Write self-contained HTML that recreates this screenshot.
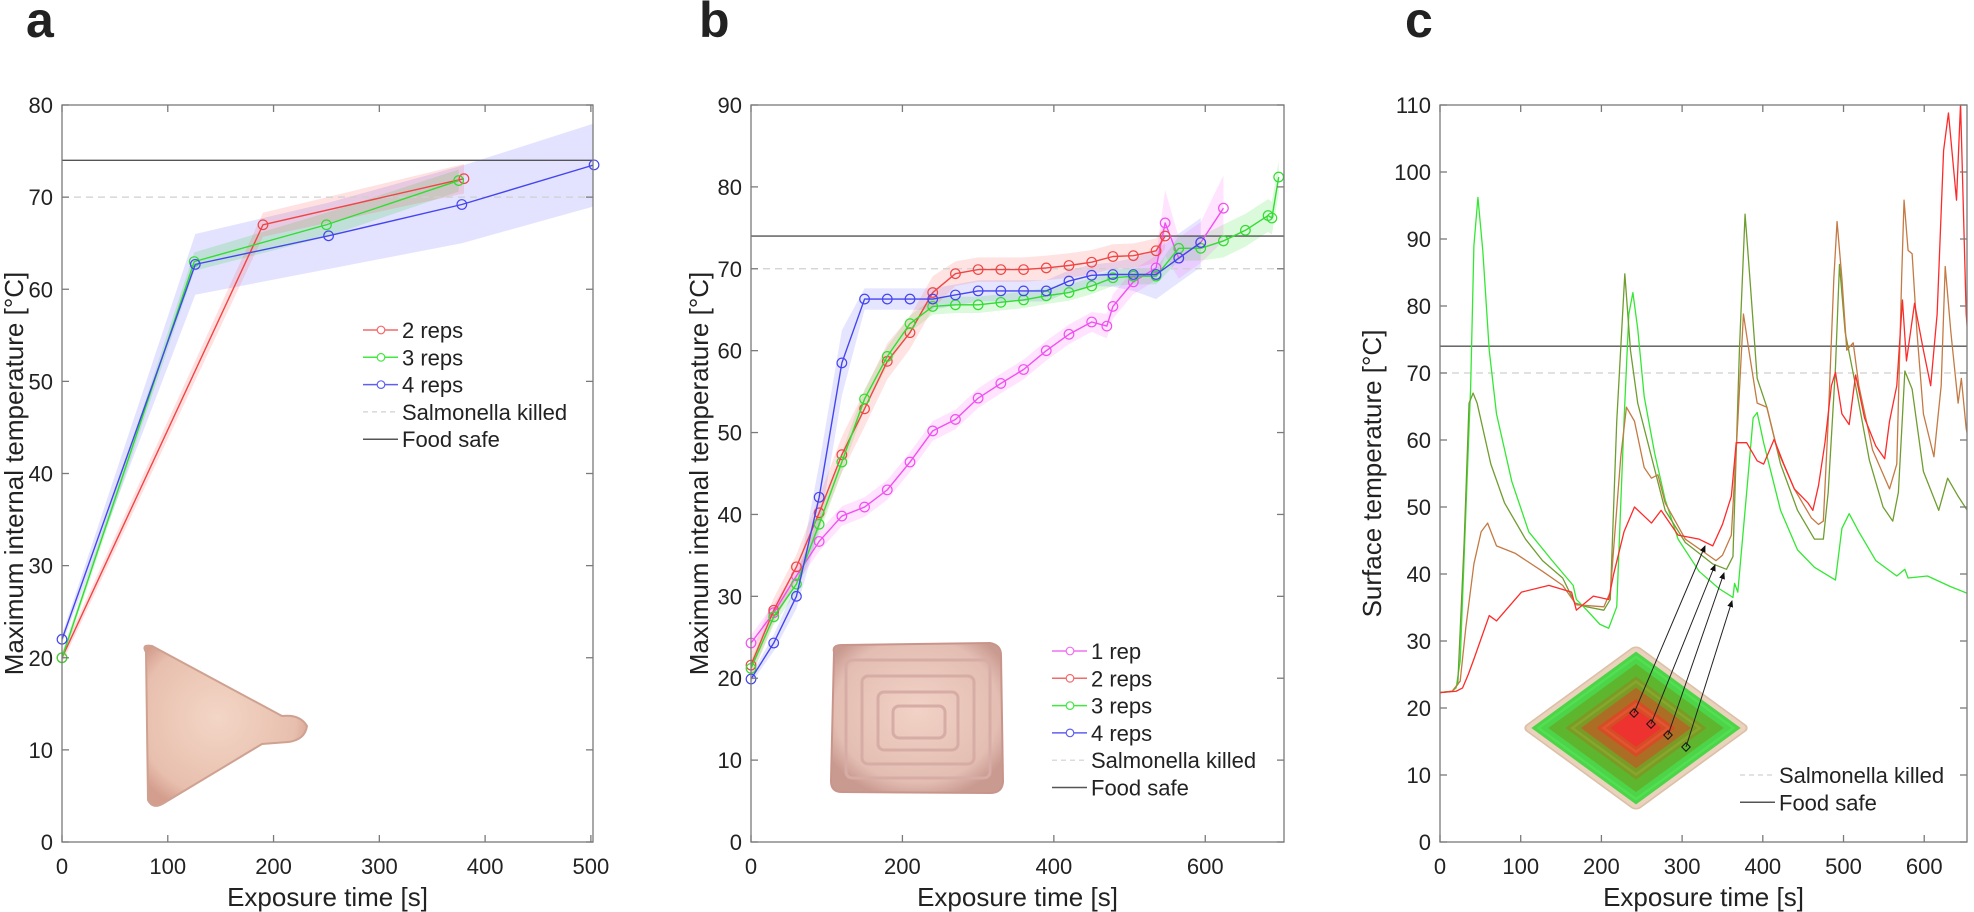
<!DOCTYPE html>
<html><head><meta charset="utf-8"><style>
html,body{margin:0;padding:0;background:#fff}
svg{display:block}
text{font-family:"Liberation Sans",Arial,sans-serif;fill:#222}
</style></head><body>
<svg id="fig" width="1974" height="912" viewBox="0 0 1974 912" xmlns="http://www.w3.org/2000/svg">
<defs>
<clipPath id="clipA"><rect x="62" y="105" width="531" height="737"/></clipPath>
<clipPath id="clipB"><rect x="751" y="105" width="533" height="737"/></clipPath>
<clipPath id="clipC"><rect x="1440" y="105" width="527" height="737"/></clipPath>
<radialGradient id="meatA" cx="0.45" cy="0.45" r="0.6"><stop offset="0" stop-color="#f3d6c6"/><stop offset="0.8" stop-color="#e8bfae"/><stop offset="1" stop-color="#d49e8e"/></radialGradient>
<radialGradient id="meatB" cx="0.5" cy="0.45" r="0.6"><stop offset="0" stop-color="#f2d2c6"/><stop offset="0.8" stop-color="#e3bdb2"/><stop offset="1" stop-color="#c99a90"/></radialGradient>
<marker id="arr" markerWidth="8" markerHeight="8" refX="6" refY="4" orient="auto"><path d="M0,1 L7,4 L0,7 Z" fill="#111"/></marker>
</defs>
<g id="root"></g>
</svg>
<script>
// ---------- Panel a data ----------
const aRedT=[0,190,380], aRedV=[20,67,72], aRedE=[0.6,1.3,1.6];
const aGreenT=[0,125,250,375], aGreenV=[20,63,67,71.8], aGreenE=[0.5,1,1.3,1.2];
const aBlueT=[0,126,252,378,503], aBlueV=[22,62.7,65.8,69.2,73.5], aBlueE=[0.5,3.3,3.6,4.2,4.5];
const aXTicks=[0,100,200,300,400,500], aYTicks=[0,10,20,30,40,50,60,70,80];
// ---------- Panel b data ----------
const bMagT=[0,30,60,90,120,150,180,210,240,270,300,330,360,390,420,450,470,478,505,535,547,565,594,624];
const bMagV=[24.3,28,32.5,36.7,39.8,40.9,43,46.4,50.2,51.6,54.2,56,57.7,60,62,63.5,63,65.4,68.4,70.1,75.6,71.3,73.2,77.4];
const bMagE=[1,1,1,1.2,1.2,1.2,1.2,1.2,1.2,1.2,1.2,1.2,1.2,1.2,1.2,1.2,1.5,1.5,1.5,1.5,4,2.5,2.5,4];
const bRedT=[0,30,60,90,120,150,180,210,240,270,300,330,360,390,420,450,478,505,535,547];
const bRedV=[21.6,28.3,33.6,40.2,47.3,52.9,58.7,62.2,67.1,69.4,69.9,69.9,69.9,70.1,70.4,70.8,71.5,71.6,72.2,74];
const bRedE=[1.5,1.5,1.5,2,2.2,2.2,2.2,2,2,1.5,1.5,1.5,1.5,1.5,1.5,1.5,1.5,1.5,1.5,1.5];
const bGreenT=[0,30,60,90,120,150,180,210,240,270,300,330,360,390,420,450,478,505,535,565,594,624,653,683,688,697];
const bGreenV=[21.2,27.5,31.5,38.8,46.4,54.1,59.3,63.3,65.4,65.6,65.6,65.9,66.2,66.7,67.1,67.9,68.9,69.1,69.1,72.5,72.5,73.4,74.7,76.5,76.2,81.2];
const bGreenE=[1,1,1,1.2,1.2,1.2,1.2,1,1,1,1,1,1,1,1,1,1,1,1,1.5,1.5,2,2,2,2,2];
const bBlueT=[0,30,60,90,120,150,180,210,240,270,300,330,360,390,420,450,478,505,535,565,594];
const bBlueV=[19.9,24.3,30,42.1,58.5,66.3,66.3,66.3,66.3,66.8,67.3,67.3,67.3,67.3,68.5,69.2,69.3,69.3,69.3,71.3,73.2];
const bBlueE=[0.5,1,1.5,4,4,1.3,1.3,1.3,1.3,1.3,1.3,1.3,1.3,1.3,1.3,1.3,1.5,2,3,3,3];
const bXTicks=[0,200,400,600], bYTicks=[0,10,20,30,40,50,60,70,80,90];
// ---------- Panel c data ----------
const cG1T=[0,15,20,25,38,42,47,53,61,70,89,110,139,165,169,182,198,209,219,228,234,239,245,253,266,279,295,321,346,363,365,369,380,388,393,401,422,443,464,490,498,507,519,540,566,576,580,604,633,662];
const cG1V=[22.3,22.5,23,27,68,89,96.2,88.3,73.4,63.9,53.8,46.3,42,38.3,36.2,34.6,32.5,31.9,35.1,62.8,78.8,82,76.6,66.5,58,51.1,45.2,40.4,37.8,36.5,38.6,37.3,52.2,63.3,64.1,59.6,49.5,43.6,41,39.1,46.8,49,46.3,42,39.7,40.7,39.4,39.7,38.1,36.7];
const cG2T=[0,15,22,30,36,41,46,63,80,106,127,152,167,182,203,211,219,229,236,245,262,279,304,338,355,363,371,378,384,393,405,422,443,464,475,481,490,495,502,515,532,549,561,568,576,585,599,618,629,642,662];
const cG2V=[22.3,22.5,23.5,45,65.5,67,65.5,56.4,50.6,45.2,42,39.4,35.7,35.1,34.6,36.2,62.8,84.8,73.4,65.5,57.5,49.5,44.7,41.5,40.7,42.6,73.4,93.7,84.1,69.2,64.9,56.4,49.5,45.2,45.2,52.2,70.8,86.2,76.1,68.1,57,50,47.9,52.2,70.3,67.6,55.3,49.5,54.3,51.6,47.9];
const cG3T=[0,15,25,32,42,51,59,70,93,127,152,169,203,211,224,231,241,253,262,270,279,304,329,342,350,361,369,376,384,393,405,418,439,460,469,475,481,488,492,498,504,512,519,536,557,566,572,575,580,585,591,599,612,621,626,633,642,646,652,662];
const cG3V=[22.3,22.5,24,32,41.5,46.3,47.6,44.2,43.1,40.4,38.3,35.4,35.1,37.3,57.5,64.9,62.8,55.9,54.3,54.8,50.6,45.2,43.1,42,42.8,45.8,62.8,78.8,72.4,65.5,64.9,58.5,52.7,48.4,47.4,47.9,62.8,84.1,92.6,84.1,73.4,74.5,68.1,58.5,52.7,56.4,84.1,95.8,88.3,87.8,76.1,63.9,57.5,68.1,85.9,76.1,65.5,69.2,61.7,55.9];
const cG4T=[0,20,28,35,42,61,70,101,135,163,169,190,209,215,228,241,262,274,295,321,338,350,361,367,380,393,401,414,426,439,456,462,469,477,485,490,498,507,515,526,540,551,557,566,573,578,588,599,608,616,624,630,640,645,652,662];
const cG4V=[22.3,22.5,23,25,27.3,33.8,33,37.3,38.3,37.3,34.6,36.7,36.2,39.9,46.3,50,47.6,49.5,45.8,45.2,44.2,47.4,51.6,59.6,59.6,56.9,56.4,60.1,56.4,52.7,50.6,49.5,53.2,59.6,68.1,70.1,63.9,62.3,69.7,63.3,59.1,57.2,62.8,68.1,80.9,71.8,80.4,73.4,68.1,78.8,103.2,108.8,95.8,110.2,78.8,62.8];
const cXTicks=[0,100,200,300,400,500,600], cYTicks=[0,10,20,30,40,50,60,70,80,90,100,110];

const NS='http://www.w3.org/2000/svg';
const root=document.getElementById('root');
function el(tag,attrs,parent){const e=document.createElementNS(NS,tag);for(const k in attrs)e.setAttribute(k,attrs[k]);(parent||root).appendChild(e);return e;}
function txt(s,attrs,parent){const e=el('text',attrs,parent);e.textContent=s;return e;}

function makeAxes(L,R,T,B,xmin,xmax,ymin,ymax){
  return {L,R,T,B,x:v=>L+(v-xmin)/(xmax-xmin)*(R-L),y:v=>B-(v-ymin)/(ymax-ymin)*(B-T)};
}
function drawFrame(ax,xt,yt,name){
  const g=el('g',{});
  
  
  el('rect',{x:ax.L,y:ax.T,width:ax.R-ax.L,height:ax.B-ax.T,fill:'none',stroke:'#7a7a7a','stroke-width':1.3},g);
  xt.forEach(v=>{const X=ax.x(v);
    el('line',{x1:X,x2:X,y1:ax.B,y2:ax.B-7,stroke:'#7a7a7a','stroke-width':1.3},g);
    el('line',{x1:X,x2:X,y1:ax.T,y2:ax.T+7,stroke:'#7a7a7a','stroke-width':1.3},g);
    const t=txt(String(v),{x:X,y:ax.B+32,'font-size':22,'text-anchor':'middle'},g);
    
    
  });
  yt.forEach(v=>{const Y=ax.y(v);
    el('line',{x1:ax.L,x2:ax.L+7,y1:Y,y2:Y,stroke:'#7a7a7a','stroke-width':1.3},g);
    el('line',{x1:ax.R,x2:ax.R-7,y1:Y,y2:Y,stroke:'#7a7a7a','stroke-width':1.3},g);
    const t=txt(String(v),{x:ax.L-9,y:Y+8,'font-size':22,'text-anchor':'end'},g);
    
    
  });
}
function refLines(ax,clip,name){
  const s=el('line',{x1:ax.L,x2:ax.R,y1:ax.y(70),y2:ax.y(70),stroke:'#cfcfcf','stroke-width':1.3,'stroke-dasharray':'7,5','clip-path':clip});
  
  
  const f=el('line',{x1:ax.L,x2:ax.R,y1:ax.y(74),y2:ax.y(74),stroke:'#555','stroke-width':1.4,'clip-path':clip});
  
  
}
function band(ax,T,V,E,fill,clip,name){
  let d='';
  T.forEach((t,i)=>{d+=(i?'L':'M')+ax.x(t)+','+ax.y(V[i]+E[i]);});
  for(let i=T.length-1;i>=0;i--)d+='L'+ax.x(T[i])+','+ax.y(V[i]-E[i]);
  const p=el('path',{d:d+'Z',fill:fill,stroke:'none','clip-path':clip});
  
  
}
function series(ax,T,V,color,clip,name,markers){
  const pts=T.map((t,i)=>ax.x(t)+','+ax.y(V[i])).join(' ');
  const l=el('polyline',{points:pts,fill:'none',stroke:color,'stroke-width':markers?1.4:1.3,'stroke-linejoin':'round','clip-path':clip});
  
  
  if(markers)T.forEach((t,i)=>{
    const c=el('circle',{cx:ax.x(t),cy:ax.y(V[i]),r:4.8,fill:'none',stroke:color,'stroke-width':1.2});
    
    
  });
}
function legend(x,y0,items,name){
  const g=el('g',{});
  
  
  items.forEach((it,i)=>{const y=y0+i*27.3;
    const e=el('g',{},g);
    
    
    el('line',{x1:x,x2:x+35,y1:y,y2:y,stroke:it.c,'stroke-width':it.dash?1.2:1.5,'stroke-dasharray':it.dash?'5,4':'none'},e);
    if(it.m)el('circle',{cx:x+18,cy:y,r:3.8,fill:'#fff',stroke:it.c,'stroke-width':1.2},e);
    txt(it.t,{x:x+39,y:y+8,'font-size':22},e);
  });
}
function titles(ax,ylab,ytx,name,letter,lx){
  const xt=txt('Exposure time [s]',{x:(ax.L+ax.R)/2,y:906,'font-size':26,'text-anchor':'middle'});
  
  
  const yt=txt(ylab,{x:0,y:0,'font-size':26,'text-anchor':'middle',transform:`translate(${ytx},${(ax.T+ax.B)/2}) rotate(-90)`});
  
  
  const l=txt(letter,{x:lx,y:37,'font-size':50,'font-weight':'bold',fill:'#000'});
  
  
}

// ======== Panel a ========
const A=makeAxes(62,593,105,842,0,502,0,80);
// food image (triangle)
const tri=el('path',{d:'M146,652 Q141,644 152,646 L282,716 Q300,714 307,726 Q305,740 288,742 L262,744 L164,803 Q153,810 148,800 Z',fill:'url(#meatA)',stroke:'#cfa191','stroke-width':2});


band(A,aBlueT,aBlueV,aBlueE,'rgba(70,70,255,0.15)','url(#clipA)','a-4reps');
band(A,aGreenT,aGreenV,aGreenE,'rgba(0,200,0,0.15)','url(#clipA)','a-3reps');
band(A,aRedT,aRedV,aRedE,'rgba(255,80,80,0.17)','url(#clipA)','a-2reps');
refLines(A,'url(#clipA)','a');
series(A,aRedT,aRedV,'#f04545','url(#clipA)','a-2reps',true);
series(A,aGreenT,aGreenV,'#30dd30','url(#clipA)','a-3reps',true);
series(A,aBlueT,aBlueV,'#4545f0','url(#clipA)','a-4reps',true);
drawFrame(A,aXTicks,aYTicks,'a');
legend(363,330,[{t:'2 reps',c:'#f36a6a',m:1},{t:'3 reps',c:'#40e840',m:1},{t:'4 reps',c:'#6060f0',m:1},{t:'Salmonella killed',c:'#d0d0d0',dash:1},{t:'Food safe',c:'#555'}],'a');
titles(A,'Maximum internal temperature [°C]',23,'a','a',26);

// ======== Panel b ========
const Bx=makeAxes(751,1284,105,842,0,704,0,90);
const sq=el('g',{});


el('path',{d:'M834,652 Q832,645 842,645 L990,643 Q1001,645 1001,655 L1003,782 Q1002,793 990,793 L842,792 Q831,792 831,781 Z',fill:'url(#meatB)',stroke:'#c9958b','stroke-width':2},sq);
[[846,660,144,118],[862,676,112,88],[878,692,80,58],[893,706,52,32]].forEach(r=>el('rect',{x:r[0],y:r[1],width:r[2],height:r[3],rx:6,fill:'none',stroke:'#d6aca4','stroke-width':3},sq));
band(Bx,bBlueT,bBlueV,bBlueE,'rgba(70,70,255,0.14)','url(#clipB)','b-4reps');
band(Bx,bGreenT,bGreenV,bGreenE,'rgba(0,210,0,0.14)','url(#clipB)','b-3reps');
band(Bx,bRedT,bRedV,bRedE,'rgba(255,80,80,0.16)','url(#clipB)','b-2reps');
band(Bx,bMagT,bMagV,bMagE,'rgba(255,80,255,0.16)','url(#clipB)','b-1rep');
refLines(Bx,'url(#clipB)','b');
series(Bx,bMagT,bMagV,'#f050f0','url(#clipB)','b-1rep',true);
series(Bx,bRedT,bRedV,'#f04545','url(#clipB)','b-2reps',true);
series(Bx,bGreenT,bGreenV,'#30dd30','url(#clipB)','b-3reps',true);
series(Bx,bBlueT,bBlueV,'#4545f0','url(#clipB)','b-4reps',true);
drawFrame(Bx,bXTicks,bYTicks,'b');
legend(1052,651,[{t:'1 rep',c:'#f070f0',m:1},{t:'2 reps',c:'#f36a6a',m:1},{t:'3 reps',c:'#40e840',m:1},{t:'4 reps',c:'#6060f0',m:1},{t:'Salmonella killed',c:'#d0d0d0',dash:1},{t:'Food safe',c:'#555'}],'b');
titles(Bx,'Maximum internal temperature [°C]',708,'b','b',699);

// ======== Panel c ========
const C=makeAxes(1440,1967,105,842,0,653,0,110);
refLines(C,'url(#clipC)','c');
series(C,cG1T,cG1V,'#33e833','url(#clipC)','c-outer-trace',false);
series(C,cG2T,cG2V,'#6f9d30','url(#clipC)','c-mid-outer-trace',false);
series(C,cG3T,cG3V,'#c47a44','url(#clipC)','c-mid-inner-trace',false);
series(C,cG4T,cG4V,'#ff2a2a','url(#clipC)','c-center-trace',false);
// printed pad illustration
const pad=el('g',{transform:'translate(1636,728) scale(1,0.73) rotate(45)'});


el('rect',{x:-80,y:-80,width:160,height:160,rx:6,fill:'#ead2bd',stroke:'#dcc0a8','stroke-width':2},pad);
[[148,'#3fd43f'],[124,'#5fb32c'],[100,'#7d9a26'],[78,'#b06a24'],[56,'#d84a26'],[36,'#f03030']].forEach(s=>el('rect',{x:-s[0]/2,y:-s[0]/2,width:s[0],height:s[0],fill:s[1],opacity:0.92},pad));
[[148,'#58e658'],[100,'#8fae30'],[56,'#ec5b3a']].forEach(s=>el('rect',{x:-s[0]/2+5,y:-s[0]/2+5,width:s[0]-10,height:s[0]-10,fill:'none',stroke:s[1],'stroke-width':3,opacity:0.6},pad));
const arrows=[[1634,713,1705,546],[1651,724,1715,565],[1668,735,1724,573],[1686,747,1732,601]];
arrows.forEach(a=>{
  const ln=el('line',{x1:a[0],y1:a[1],x2:a[2],y2:a[3],stroke:'#222','stroke-width':1,'marker-end':'url(#arr)'});
  
  
  el('rect',{x:a[0]-3,y:a[1]-3,width:6,height:6,fill:'none',stroke:'#111','stroke-width':1,transform:`rotate(45 ${a[0]} ${a[1]})`});
});
drawFrame(C,cXTicks,cYTicks,'c');
legend(1740,775,[{t:'Salmonella killed',c:'#d0d0d0',dash:1},{t:'Food safe',c:'#555'}],'c');
titles(C,'Surface temperature [°C]',1381,'c','c',1405);
</script>
</body></html>
